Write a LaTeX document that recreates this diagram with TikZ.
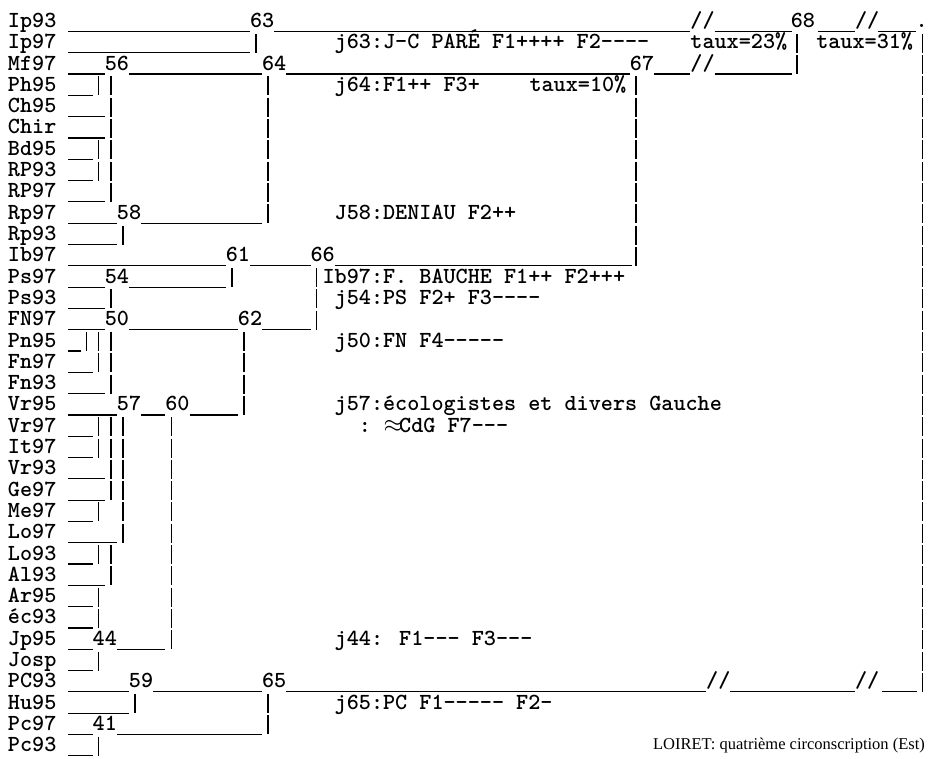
\documentclass[tikz,border=0pt]{standalone}
\usepackage{fontspec}
\newfontfamily\loiretfont{Liberation Serif}
\newcommand\mono{\ttfamily\fontseries{b}\fontsize{23.05}{24}\selectfont}

\begin{document}
\begin{tikzpicture}[x=12.1pt, y=-21.3pt,
  lab/.style={anchor=base west, inner sep=0pt, outer sep=0pt, font=\mono},
  bar/.style={line width=1.2pt},
  pipe/.style={line width=1.4pt, dash pattern=on 19pt off 2.3pt}]

  % cadre
  \fill[white] (-0.661,-1.291) rectangle (76.116,34.296);
  \useasboundingbox (-0.661,-1.291) rectangle (76.116,34.296);

  % etiquettes des lignes
  \foreach \lab [count=\i from 0] in {Ip93,Ip97,Mf97,Ph95,Ch95,Chir,Bd95,RP93,RP97,
      Rp97,Rp93,Ib97,Ps97,Ps93,FN97,Pn95,Fn97,Fn93,Vr95,Vr97,It97,Vr93,Ge97,Me97,
      Lo97,Lo93,Al93,Ar95,éc93,Jp95,Josp,PC93,Hu95,Pc97,Pc93}
    \node[lab] (row\i) at (0,\i) {\lab};

  % traits horizontaux (ligne / debut / fin)
  \foreach \ya/\xa/\xb in {0/5/20, 0/22/56.4, 0/58.4/64.8, 0/66.95/70, 0/71.9/75,
      1/5/20,
      2/5/8, 2/10/21, 2/23/51.4, 2/53.4/56.4, 2/58.4/64.8,
      3/5/7, 4/5/8, 5/5/8, 6/5/7, 7/5/7, 8/5/8,
      9/5/9, 9/11/21, 10/5/9,
      11/5/18, 11/20/25, 11/27/51.6,
      12/5/8, 12/10/18, 13/5/8,
      14/5/8, 14/10/19, 14/21/25,
      15/5/6, 16/5/7, 17/5/8,
      18/5/9, 18/11/13, 18/15/19,
      19/5/7, 20/5/7, 21/5/8, 22/5/8, 23/5/7, 24/5/9, 25/5/7, 26/5/8, 27/5/7, 28/5/7,
      29/5/7, 29/9/13, 30/5/7,
      31/5/10, 31/12/21, 31/23/57.7, 31/59.7/70, 31/72.2/75.1,
      32/5/10, 33/5/7, 33/9/21, 34/5/7}
    \draw[bar] ([yshift=-4pt]\xa,\ya) -- ([yshift=-4pt]\xb,\ya);

  % traits verticaux (colonne / de / a)
  \foreach \xc/\ra/\rb in {6.5/15/15,
      7.5/3/3, 7.5/6/7, 7.5/15/16, 7.5/19/20, 7.5/23/23, 7.5/25/25, 7.5/27/28,
      7.5/30/30, 7.5/34/34,
      8.5/3/8, 8.5/13/13, 8.5/15/17, 8.5/19/22, 8.5/25/26,
      9.5/10/10, 9.5/19/24, 10.5/32/32, 13.5/19/29,
      18.5/12/12, 19.5/15/18, 20.5/1/1, 21.5/3/9, 21.5/32/33,
      25.5/12/14, 51.9/3/11, 65.2/1/2, 75.6/1/31}
    \draw[pipe] ([yshift=15pt]\xc,\ra) -- ([yshift=-4pt]\xc,\rb);

  % niveaux d'agregation
  \foreach \v/\xc/\ry in {63/20/0, 68/64.7/0, 56/8/2, 64/21/2, 67/51.4/2, 58/9/9,
      61/18/11, 66/25/11, 54/8/12, 50/8/14, 62/19/14, 57/9/18, 60/13/18,
      44/7/29, 59/10/31, 65/21/31, 41/7/33}
    \node[lab] (n\v) at (\xc,\ry) {\v};

  % coupures
  \foreach \xc/\ry [count=\k] in {56.4/0, 70/0, 56.4/2, 57.7/31, 70/31}
    \node[lab] (cut\k) at (\xc,\ry) {//};
  \node[lab] (pt68) at (75,0) {.};

  % commentaires
  \node[lab] (j63) at (27,1) {j63:J-C PARÉ F1++++ F2----};
  \node[lab] (taux23) at (56.4,1) {taux=23\%};
  \node[lab] (taux31) at (66.8,1) {taux=31\%};
  \node[lab] (j64) at (27,3) {j64:F1++ F3+};
  \node[lab] (taux10) at (43.1,3) {taux=10\%};
  \node[lab] (j58) at (27,9) {J58:DENIAU F2++};
  \node[lab] (ib97) at (26,12) {Ib97:F. BAUCHE F1++ F2+++};
  \node[lab] (j54) at (27,13) {j54:PS F2+ F3----};
  \node[lab] (j50) at (27,15) {j50:FN F4-----};
  \node[lab] (j57) at (27,18) {j57:écologistes et divers Gauche};
  \node[lab] (cdg) at (29,19) {: \makebox[0.525em]{$\approx$}CdG F7---};
  \node[lab] (j44) at (27,29) {j44: F1--- F3---};
  \node[lab] (j65) at (27,32) {j65:PC F1----- F2-};

  % titre
  \node[anchor=base east, inner sep=0pt, font=\loiretfont\fontsize{16.5}{18}\selectfont]
    (titre) at (75.79,33.9) {LOIRET: quatrième circonscription (Est)};
\end{tikzpicture}
\end{document}
